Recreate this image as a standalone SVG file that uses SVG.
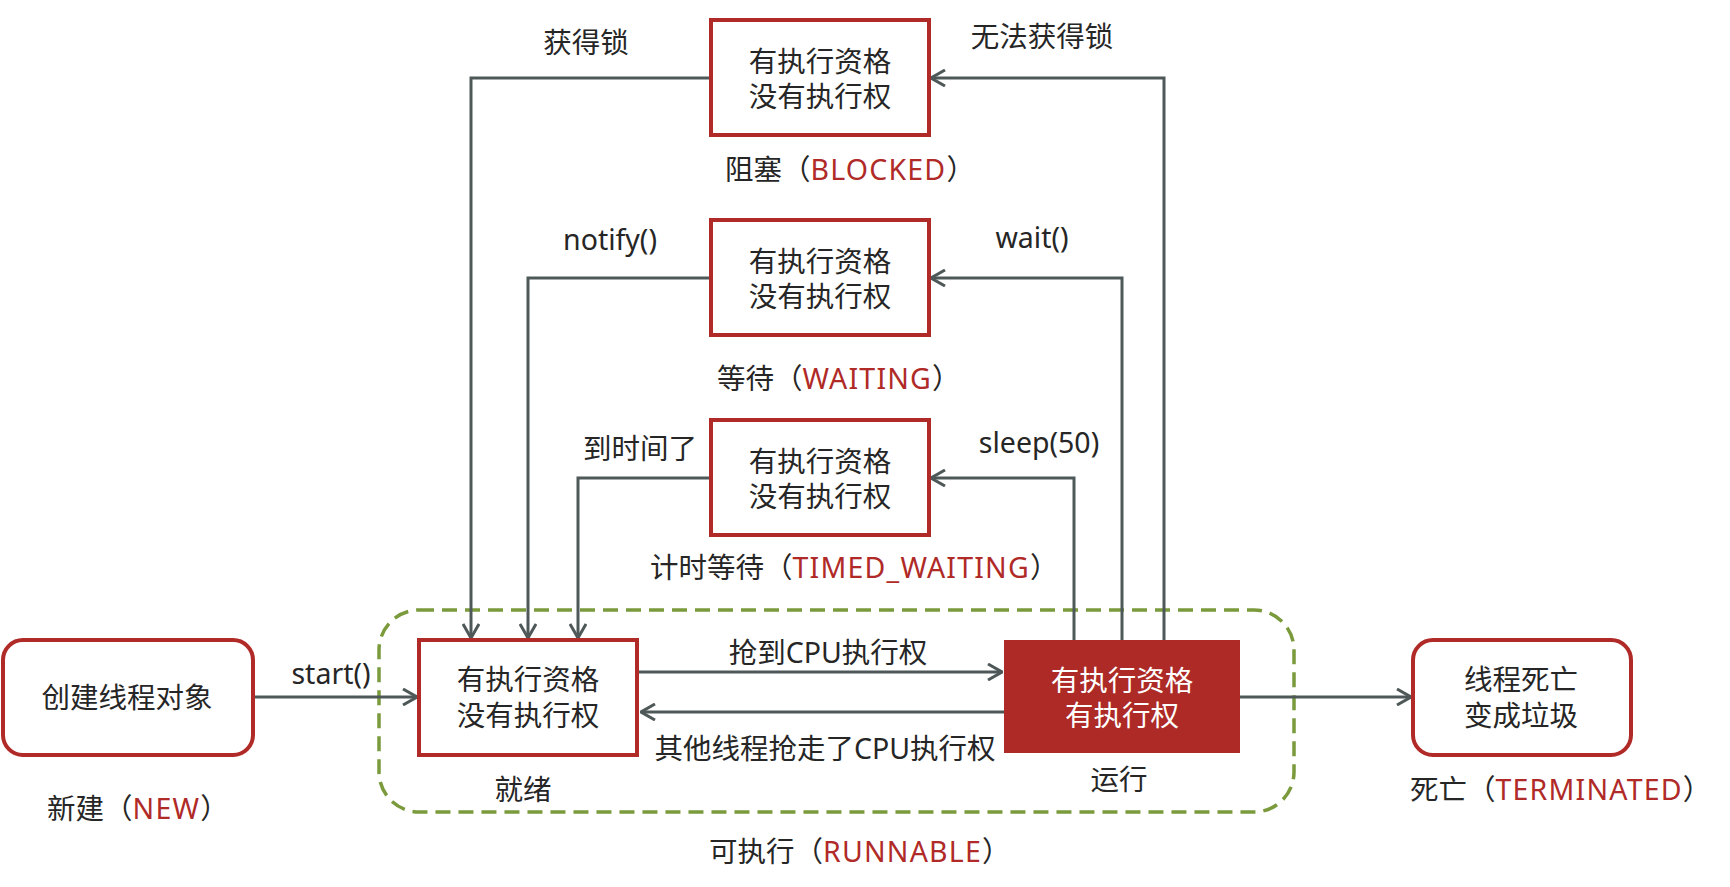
<svg xmlns="http://www.w3.org/2000/svg" width="1730" height="887" viewBox="0 0 1730 887">
<style>
text{font-family:"Noto Sans","Noto Sans CJK SC",sans-serif;font-size:28.5px;fill:#262626;text-anchor:middle;dominant-baseline:central}
text.lbl{text-anchor:start}
.red{fill:#b02a27;letter-spacing:1.2px}
.white{fill:#ffffff}
.box{fill:#ffffff;stroke:#b02a27;stroke-width:4}
.run{fill:#ad2a27;stroke:none}
.conn{fill:none;stroke:#4f5858;stroke-width:3}
.group{fill:none;stroke:#7a9a3c;stroke-width:3.5;stroke-dasharray:15 8}
</style>
<defs>
<marker id="arr" viewBox="0 0 16 18" refX="15" refY="9" markerWidth="16" markerHeight="18" markerUnits="userSpaceOnUse" orient="auto">
<path d="M1,1 L15,9 L1,17" fill="none" stroke="#4f5858" stroke-width="3"/>
</marker>
</defs>
<rect width="1730" height="887" fill="#ffffff"/>

<g id="runnable-group">
<rect class="group" x="379" y="610" width="915" height="202" rx="40"/>
<text class="lbl" x="709" y="851">可执行（<tspan class="red">RUNNABLE</tspan>）</text>
</g>

<g id="connectors">
<path class="conn" d="M253,697 H417" marker-end="url(#arr)"/>
<path class="conn" d="M639,672 H1002" marker-end="url(#arr)"/>
<path class="conn" d="M1004,712 H641" marker-end="url(#arr)"/>
<path class="conn" d="M1240,697 H1411" marker-end="url(#arr)"/>
<path class="conn" d="M711,78 H471 V638" marker-end="url(#arr)"/>
<path class="conn" d="M1164,640 V78 H931" marker-end="url(#arr)"/>
<path class="conn" d="M711,278 H528 V638" marker-end="url(#arr)"/>
<path class="conn" d="M1122,640 V278 H931" marker-end="url(#arr)"/>
<path class="conn" d="M711,478 H578 V638" marker-end="url(#arr)"/>
<path class="conn" d="M1074,640 V478 H931" marker-end="url(#arr)"/>
<text x="331" y="673">start()</text>
<text x="828" y="652">抢到CPU执行权</text>
<text x="825" y="748">其他线程抢走了CPU执行权</text>
<text x="586" y="42">获得锁</text>
<text x="1042" y="36">无法获得锁</text>
<text x="610" y="239">notify()</text>
<text x="1032" y="237">wait()</text>
<text x="640" y="448">到时间了</text>
<text x="1039" y="442">sleep(50)</text>
</g>

<g id="node-new">
<rect class="box" x="3" y="640" width="250" height="115" rx="20"/>
<text x="127" y="697">创建线程对象</text>
<text class="lbl" x="47" y="808">新建（<tspan class="red">NEW</tspan>）</text>
</g>

<g id="node-ready">
<rect class="box" x="419" y="640" width="218" height="115"/>
<text x="528" y="679">有执行资格<tspan x="528" dy="36">没有执行权</tspan></text>
<text x="523" y="789">就绪</text>
</g>

<g id="node-running">
<rect class="run" x="1004" y="640" width="236" height="113"/>
<text class="white" x="1122" y="680">有执行资格<tspan x="1122" dy="35">有执行权</tspan></text>
<text x="1119" y="779">运行</text>
</g>

<g id="node-terminated">
<rect class="box" x="1413" y="640" width="218" height="115" rx="20"/>
<text x="1521" y="679">线程死亡<tspan x="1521" dy="36">变成垃圾</tspan></text>
<text class="lbl" x="1410" y="789">死亡（<tspan class="red">TERMINATED</tspan>）</text>
</g>

<g id="node-blocked">
<rect class="box" x="711" y="20" width="218" height="115"/>
<text x="820" y="61">有执行资格<tspan x="820" dy="35">没有执行权</tspan></text>
<text class="lbl" x="725" y="169">阻塞（<tspan class="red">BLOCKED</tspan>）</text>
</g>

<g id="node-waiting">
<rect class="box" x="711" y="220" width="218" height="115"/>
<text x="820" y="261">有执行资格<tspan x="820" dy="35">没有执行权</tspan></text>
<text class="lbl" x="717" y="378">等待（<tspan class="red">WAITING</tspan>）</text>
</g>

<g id="node-timed">
<rect class="box" x="711" y="420" width="218" height="115"/>
<text x="820" y="461">有执行资格<tspan x="820" dy="35">没有执行权</tspan></text>
<text class="lbl" x="650" y="567">计时等待（<tspan class="red">TIMED_WAITING</tspan>）</text>
</g>
</svg>
